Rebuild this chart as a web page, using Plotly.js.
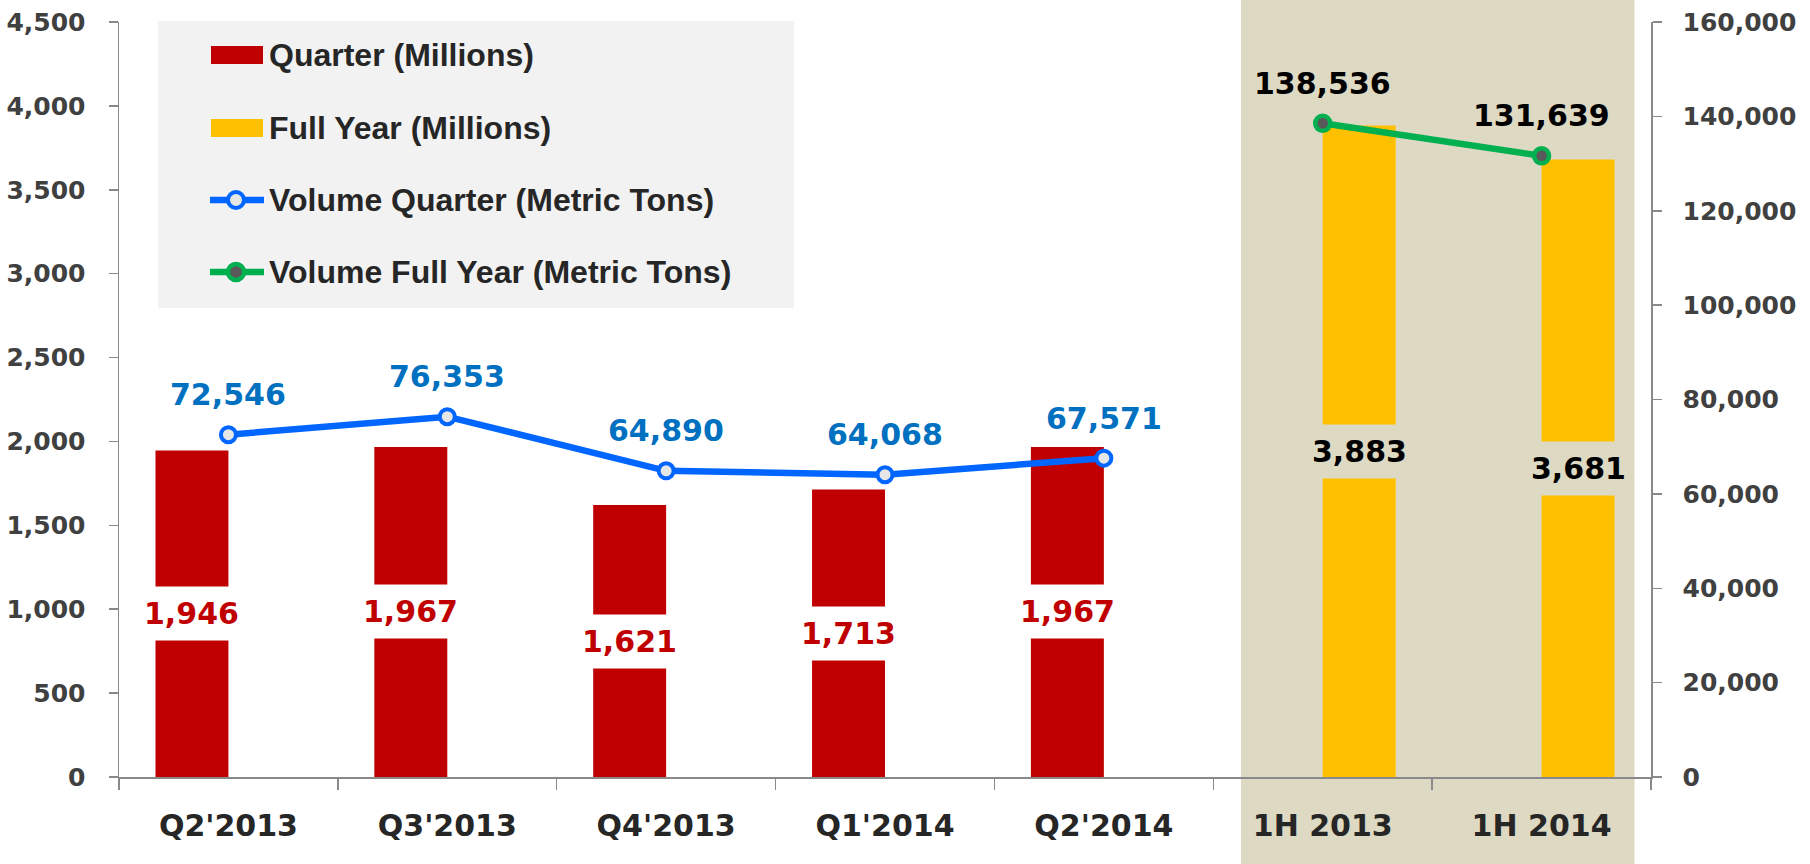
<!DOCTYPE html>
<html><head><meta charset="utf-8">
<script src="https://cdn.plot.ly/plotly-3.0.1.min.js"></script>
<style>html,body{margin:0;padding:0;background:#fff}#chart{width:1810px;height:864px}</style>
</head><body><div id="chart"></div>
<script>
// ---- data ----
const categories = ["Q2'2013","Q3'2013","Q4'2013","Q1'2014","Q2'2014","1H 2013","1H 2014"];
const quarters = ["Q2'2013","Q3'2013","Q4'2013","Q1'2014","Q2'2014"];
const halves = ["1H 2013","1H 2014"];
const quarterMillions = [1946,1967,1621,1713,1967];
const fullYearMillions = [3883,3681];
const volumeQuarterTons = [72546,76353,64890,64068,67571];
const volumeFullYearTons = [138536,131639];
const legendLabels = ["Quarter (Millions)","Full Year (Millions)","Volume Quarter (Metric Tons)","Volume Full Year (Metric Tons)"];

// ---- styling / geometry ----
const W = 1810, H = 864;
const M = {l:119, r:159, t:22, b:87};
const plotW = W - M.l - M.r, plotH = H - M.t - M.b;
const px = x => (x - M.l) / plotW;          // pixel -> paper x
const py = y => (H - M.b - y) / plotH;      // pixel -> paper y
const RED = '#C00000', GOLD = '#FFC000', BLUE = '#0066FF', GREEN = '#00B050';
const BEIGE = '#DDD9C3', AXIS = '#898989';
const NUM = 'DejaVu Sans';
const fmt = v => v.toLocaleString('en-US');
const BAR_W = 1/3;                                   // bar width in category units
const barPx = plotW / categories.length * BAR_W;     // bar width in px
const barHalf = barPx / 2;

const traces = [
  {type:'bar', name:legendLabels[0], x:quarters, y:quarterMillions, width:BAR_W, offset:-BAR_W,
   marker:{color:RED}, yaxis:'y', hoverinfo:'x+y'},
  {type:'bar', name:legendLabels[1], x:halves, y:fullYearMillions, width:BAR_W, offset:0,
   marker:{color:GOLD}, yaxis:'y', hoverinfo:'x+y'},
  {type:'scatter', mode:'lines+markers', name:legendLabels[2], x:quarters, y:volumeQuarterTons, yaxis:'y2',
   line:{color:BLUE, width:6.5}, marker:{symbol:'circle', size:15, color:'#E6E6E6', line:{color:BLUE, width:4}}},
  {type:'scatter', mode:'lines+markers', name:legendLabels[3], x:halves, y:volumeFullYearTons, yaxis:'y2',
   line:{color:GREEN, width:6.5}, marker:{symbol:'circle', size:15, color:'#595959', line:{color:GREEN, width:4.5}}}
];

const annotations = [];
function barLabel(cat, val, shift, bg, color) {
  // background gap box (bar width), then the value text on top
  annotations.push({x:cat, y:val/2, xref:'x', yref:'y', xshift:shift, showarrow:false,
    text:' ', bgcolor:bg, borderpad:0, width:barPx+4, height:53, font:{size:10}});
  annotations.push({x:cat, y:val/2, xref:'x', yref:'y', xshift:shift, showarrow:false,
    text:fmt(val), font:{family:NUM, size:30, weight:'bold', color:color}});
}
quarters.forEach((c,i) => barLabel(c, quarterMillions[i], -barHalf, '#FFFFFF', RED));
halves.forEach((c,i) => barLabel(c, fullYearMillions[i], barHalf, BEIGE, '#000000'));
quarters.forEach((c,i) => annotations.push({
  x:c, y:volumeQuarterTons[i], xref:'x', yref:'y2', yshift:40, showarrow:false,
  text:fmt(volumeQuarterTons[i]), font:{family:NUM, size:30, weight:'bold', color:'#0070C0'}
}));
halves.forEach((c,i) => annotations.push({
  x:c, y:volumeFullYearTons[i], xref:'x', yref:'y2', yshift:40, showarrow:false,
  text:fmt(volumeFullYearTons[i]), font:{family:NUM, size:30, weight:'bold', color:'#000000'}
}));

// manual legend
const rowsY = [55, 128, 200, 272];
const shapes = [
  {type:'rect', xref:'paper', yref:'paper', x0:px(1241), x1:px(1634.5), y0:py(H), y1:py(0),
   fillcolor:BEIGE, line:{width:0}, layer:'below'},
  {type:'rect', xref:'paper', yref:'paper', x0:px(158), x1:px(794), y0:py(308), y1:py(21),
   fillcolor:'#F2F2F2', line:{width:0}, layer:'below'},
  {type:'rect', xref:'paper', yref:'paper', x0:px(211), x1:px(263), y0:py(rowsY[0]+9), y1:py(rowsY[0]-9),
   fillcolor:RED, line:{width:0}},
  {type:'rect', xref:'paper', yref:'paper', x0:px(211), x1:px(263), y0:py(rowsY[1]+9), y1:py(rowsY[1]-9),
   fillcolor:GOLD, line:{width:0}},
  {type:'line', xref:'paper', yref:'paper', x0:px(210), x1:px(264), y0:py(rowsY[2]), y1:py(rowsY[2]),
   line:{color:BLUE, width:6.5}},
  {type:'circle', xref:'paper', yref:'paper', x0:px(236-8), x1:px(236+8), y0:py(rowsY[2]+8), y1:py(rowsY[2]-8),
   fillcolor:'#E6E6E6', line:{color:BLUE, width:4}},
  {type:'line', xref:'paper', yref:'paper', x0:px(210), x1:px(264), y0:py(rowsY[3]), y1:py(rowsY[3]),
   line:{color:GREEN, width:6.5}},
  {type:'circle', xref:'paper', yref:'paper', x0:px(236-8), x1:px(236+8), y0:py(rowsY[3]+8), y1:py(rowsY[3]-8),
   fillcolor:'#595959', line:{color:GREEN, width:4.5}}
];
legendLabels.forEach((t,i) => annotations.push({
  xref:'paper', yref:'paper', x:px(267), y:py(rowsY[i]), xanchor:'left', yanchor:'middle', showarrow:false,
  text:'<b>' + t + '</b>', font:{family:'Liberation Sans', size:32, weight:'bold', color:'#262626'}
}));

const layout = {
  width:W, height:H, margin:M, paper_bgcolor:'#FFFFFF', plot_bgcolor:'rgba(0,0,0,0)',
  showlegend:false, barmode:'overlay',
  font:{family:NUM, weight:'bold'},
  xaxis:{type:'category', categoryorder:'array', categoryarray:categories, range:[-0.5, categories.length-0.5],
    tickson:'boundaries', ticks:'outside', ticklen:11, tickcolor:AXIS, tickwidth:1.5,
    showline:true, linecolor:AXIS, linewidth:2, showgrid:false, zeroline:false, automargin:false,
    ticklabelstandoff:21, tickfont:{family:NUM, size:30, weight:'bold', color:'#262626'}},
  yaxis:{range:[0,4500], dtick:500, tickformat:',', ticks:'outside', ticklen:9, tickcolor:AXIS, tickwidth:1.5,
    showline:true, linecolor:AXIS, linewidth:1.5, showgrid:false, zeroline:false, automargin:false,
    ticklabelstandoff:18, tickfont:{family:NUM, size:25, weight:'bold', color:'#404040'}},
  yaxis2:{range:[0,160000], dtick:20000, tickformat:',', overlaying:'y', side:'right', anchor:'x',
    ticks:'outside', ticklen:9, tickcolor:AXIS, tickwidth:1.5,
    showline:true, linecolor:AXIS, linewidth:1.5, showgrid:false, zeroline:false, automargin:false,
    ticklabelstandoff:16, tickfont:{family:NUM, size:25, weight:'bold', color:'#404040'}},
  shapes:shapes, annotations:annotations
};

Plotly.newPlot('chart', traces, layout, {displayModeBar:false, staticPlot:true});
</script>
</body></html>
